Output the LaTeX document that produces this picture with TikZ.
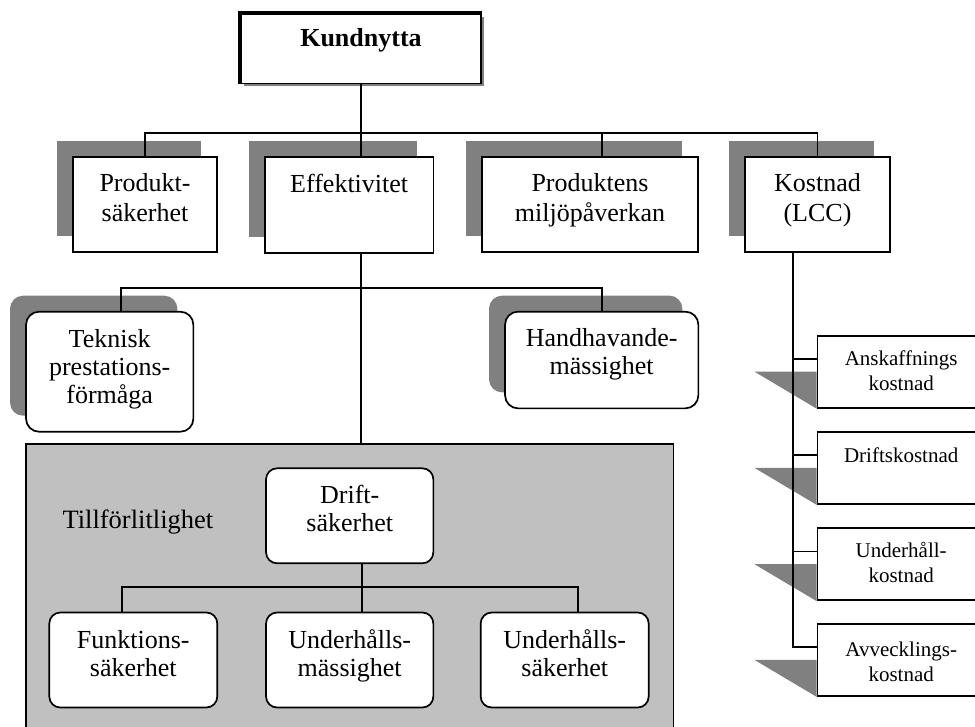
\documentclass[tikz,border=0pt]{standalone}
\usepackage{fontspec}
\setmainfont{Liberation Serif}
\usetikzlibrary{shadows,backgrounds}
\definecolor{shd}{HTML}{808080}
\definecolor{panelgray}{HTML}{C0C0C0}
\begin{document}
\begin{tikzpicture}[x=1pt,y=-1pt,line width=1.7pt,
  box/.style={draw, fill=white, rectangle, inner sep=0pt},
  rbox/.style={box, rounded corners=11pt},
  backshadow/.style={general shadow={fill=shd, shadow xshift=-16pt, shadow yshift=16pt}},
  lbl/.style={inner sep=0pt, anchor=base, align=center, text width=220pt, font=\fontsize{26}{30}\selectfont},
  lblr/.style={lbl, font=\fontsize{26}{28}\selectfont},
  slbl/.style={inner sep=0pt, anchor=base, align=center, text width=160pt, font=\fontsize{21}{25}\selectfont}
]
\clip (0,0) rectangle (975,726);

% top node
\node[box, minimum width=240pt, minimum height=69.5pt,
      general shadow={fill=shd, shadow xshift=2.5pt, shadow yshift=-3pt}] (kund) at (361,48.7) {};
\draw[line width=4pt] (kund.south west) -- (kund.north west) -- (kund.north east);
\node[lbl, font=\bfseries\fontsize{26}{30}\selectfont] (kund-t) at (361,46.7) {Kundnytta};

% second level
\node[box, backshadow, minimum width=144.6pt, minimum height=95pt] (prod) at (145,204.5) {};
\node[box, backshadow, minimum width=168.3pt, minimum height=96pt] (eff) at (349.2,205) {};
\node[box, backshadow, minimum width=216pt, minimum height=95pt] (milj) at (589.7,204.5) {};
\node[box, backshadow, minimum width=145pt, minimum height=95pt] (kost) at (817.5,204.5) {};
\node[lbl] (prod-t) at (145,191.5) {Produkt-\\säkerhet};
\node[lbl] (eff-t) at (349.2,192.7) {Effektivitet};
\node[lbl] (milj-t) at (590,191.5) {Produktens\\miljöpåverkan};
\node[lbl] (kost-t) at (817.5,191.5) {Kostnad\\(LCC)};

\coordinate (bus1) at (0,133);
\coordinate (jm) at (601.7,133);
\draw (kund.south) -- (eff.north -| kund.south);
\draw (prod.north) -- (prod.north |- bus1) -- (kost.north |- bus1) -- (kost.north);
\draw (jm) -- (jm |- milj.north);

% third level
\node[rbox, rounded corners=13pt, backshadow, minimum width=167.3pt, minimum height=120pt] (tek) at (109.7,371.7) {};
\node[rbox, rounded corners=13pt, backshadow, minimum width=193.3pt, minimum height=96.7pt] (hand) at (601.7,360) {};
\node[lblr] (tek-t) at (109.7,347.3) {Teknisk\\prestations-\\förmåga};
\node[lblr] (hand-t) at (601.7,346.7) {Handhavande-\\mässighet};

% reliability panel
\node[draw, fill=panelgray, inner sep=0pt, minimum width=647.7pt, minimum height=320pt, anchor=north west] (panel) at (25,443.3) {};
\node[inner sep=0pt, anchor=base west, font=\fontsize{26.5}{30}\selectfont] (till) at (61.7,528.3) {Tillförlitlighet};

\coordinate (bus2) at (0,287.7);
\coordinate (jt) at (120.7,287.7);
\draw (jt |- tek.north) -- (jt) -- (hand.north |- bus2) -- (hand.north);
\draw (eff.south -| kund.south) -- (panel.north -| kund.south);

\node[rbox, minimum width=167.3pt, minimum height=95pt] (drift) at (349.7,515.8) {};
\node[rbox, minimum width=168pt, minimum height=95pt] (funk) at (133.3,660) {};
\node[rbox, minimum width=167.3pt, minimum height=95pt] (uhm) at (349.7,660) {};
\node[rbox, minimum width=168pt, minimum height=95pt] (uhs) at (564.7,660) {};
\node[lblr] (drift-t) at (349.7,503.3) {Drift-\\säkerhet};
\node[lblr] (funk-t) at (133.3,648.3) {Funktions-\\säkerhet};
\node[lblr] (uhm-t) at (349.7,648.3) {Underhålls-\\mässighet};
\node[lblr] (uhs-t) at (564.7,648.3) {Underhålls-\\säkerhet};

\coordinate (jd) at (361.7,0);
\coordinate (jf) at (121.7,587.3);
\coordinate (js) at (577.7,587.3);
\draw (drift.south -| jd) -- (uhm.north -| jd);
\draw (jf |- funk.north) -- (jf) -- (js) -- (js |- uhs.north);

% cost breakdown
\node[box, minimum width=167.7pt, minimum height=72pt] (ansk) at (901.2,371.7) {};
\node[box, minimum width=167.7pt, minimum height=72pt] (drk) at (901.2,467.9) {};
\node[box, minimum width=167.7pt, minimum height=72pt] (uhk) at (901.2,564.2) {};
\node[box, minimum width=167.7pt, minimum height=72pt] (avk) at (901.2,659.9) {};
\node[slbl] (ansk-t) at (901.2,365.7) {Anskaffnings\\kostnad};
\node[slbl] (drk-t) at (901.2,462.3) {Driftskostnad};
\node[slbl] (uhk-t) at (901.2,557.2) {Underhåll-\\kostnad};
\node[slbl] (avk-t) at (901.2,656.5) {Avvecklings-\\kostnad};

\coordinate (jk) at (793.3,0);
\draw (kost.south -| jk) |- ([yshift=-24pt]avk.north west);
\foreach \n in {ansk,drk,uhk}
  \draw ([yshift=-24pt]\n.north west) -- ([yshift=-24pt]\n.north west -| jk);

\begin{scope}[on background layer]
  \foreach \n in {ansk,drk,uhk,avk}
    \fill[shd] (\n.west) -- ++(-62,0) -- (\n.south west) -- cycle;
\end{scope}
\end{tikzpicture}
\end{document}
